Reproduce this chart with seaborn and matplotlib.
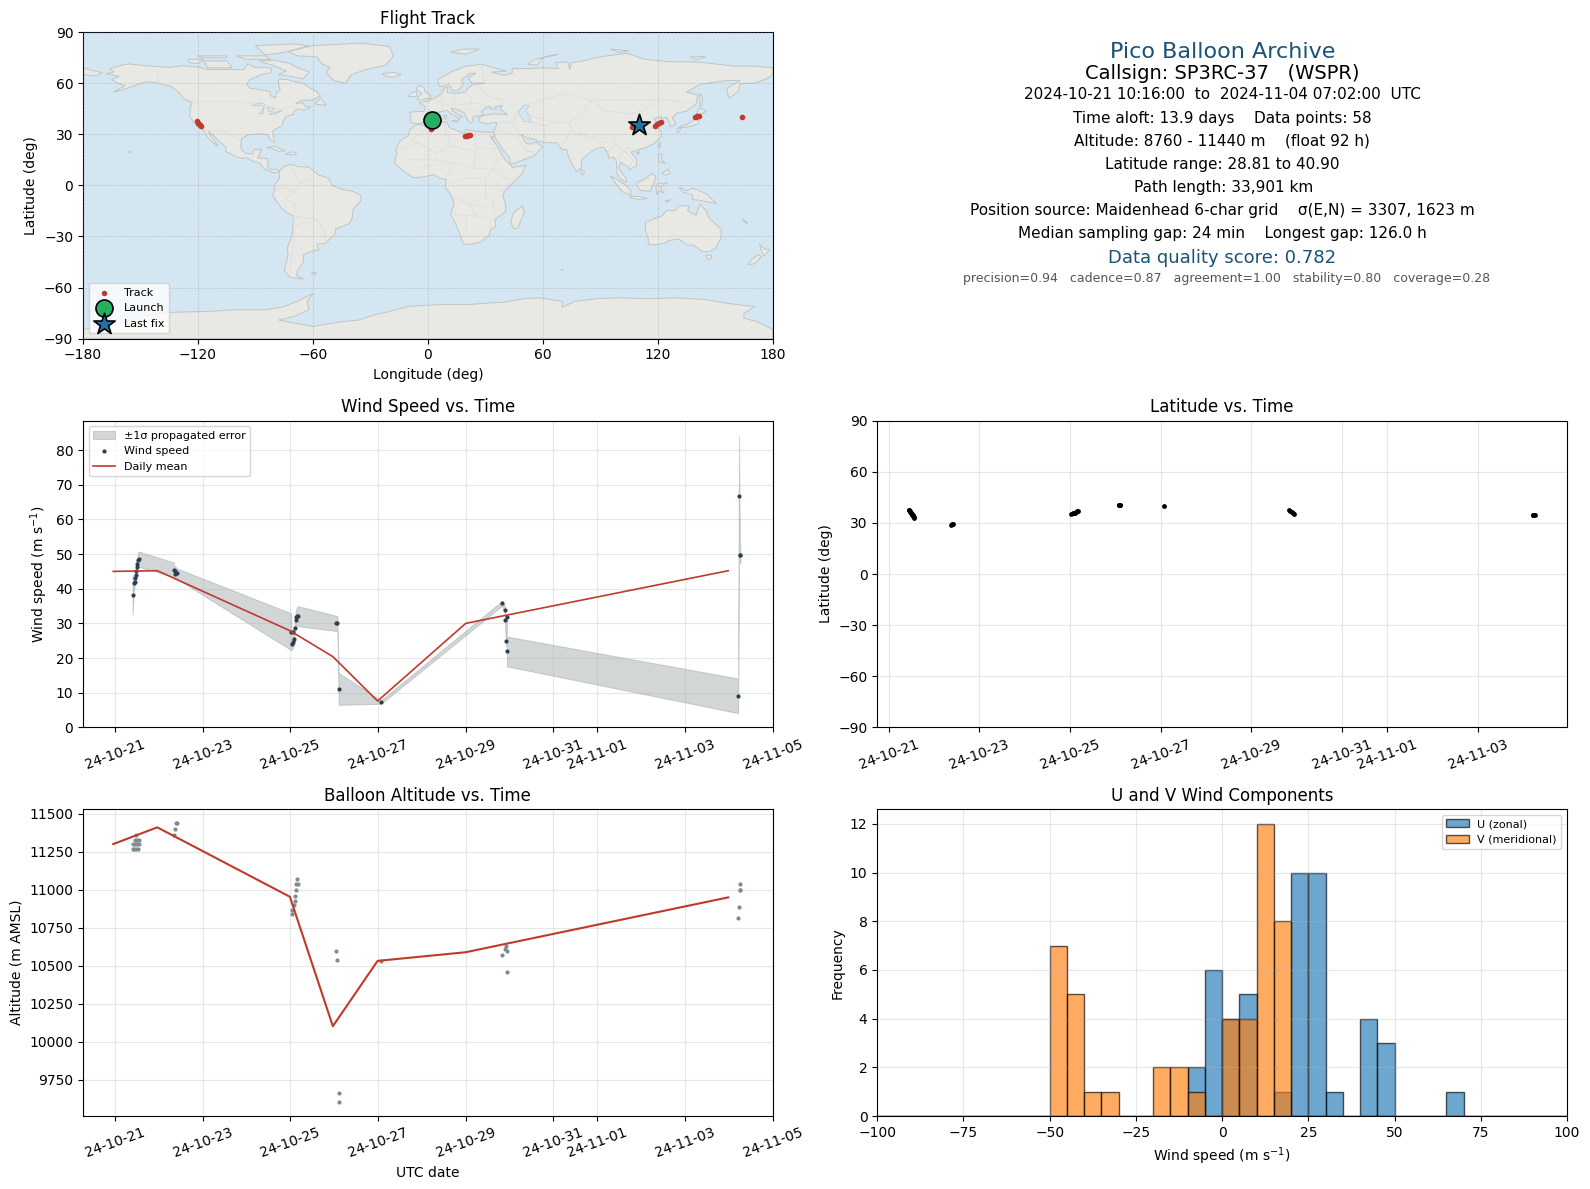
import matplotlib
matplotlib.use("Agg")
import matplotlib.dates as mdates
import matplotlib.pyplot as plt
import numpy as np
import pandas as pd
import seaborn as sns

# Launch reference, all times below are days after this
base_time = pd.Timestamp("2024-10-21")

# Wind speed samples (days, m/s, 1 sigma)
wind_days = [.40, .434, .447, .457, .472, .479, .492, .51, .525, .548,
             1.34, 1.362, 1.376, 1.406,
             4.018, 4.033, 4.064, 4.069, 4.089, 4.099, 4.119, 4.129, 4.149, 4.169,
             5.043, 5.073, 5.103, 6.068,
             8.83, 8.897, 8.898, 8.921, 8.941, 8.942,
             14.215, 14.235, 14.255, 14.265]
wind_ms = [38.3, 41.6, 41.9, 43.1, 44.1, 45.2, 46.4, 47.1, 48.4, 48.5,
           45.5, 44.3, 45, 44.4,
           27.6, 24, 24.5, 27.6, 25.5, 28.6, 30.9, 31.7, 32, 32.1,
           30, 30, 11.1, 7.3,
           35.8, 34, 31.1, 24.9, 31.7, 21.9,
           9.1, 66.7, 49.8, 49.8]
wind_err = [5.7, 1.5, 1.5, 1.5, 1.6, 1.7, 1.8, 1.9, 2.1, 2.2,
            2.1, 1.5, 1.5, 1.5,
            5.3, 1.7, 1.5, 1.5, 1.5, 1.5, 1.8, 2.2, 2.6, 2.9,
            2.2, 2.2, 4.6, .5,
            .7, 1, 1, 1.5, 1, 4.3,
            5, 17.3, 2.5, 2.5]

# Daily means
mean_days = [-.04, .965, 3.99, 4.97, 5.99, 8.0, 13.99]
mean_wind = [45, 45.2, 27.9, 20.4, 7.6, 30, 45.2]
mean_alt = [11302, 11412, 10955, 10103, 10533, 10590, 10951]

# Altitude samples
alt_days = [.40, .44, .48, .52, .42, .46, .50, .54, .46, .50, .54, .49,
            1.336, 1.366, 1.386, 1.416,
            4.038, 4.039, 4.079, 4.099, 4.10, 4.119, 4.12, 4.169, 4.149,
            5.043, 5.063, 5.103, 5.104, 6.068,
            8.83, 8.897, 8.921, 8.941, 8.942,
            14.215, 14.235, 14.255, 14.265, 14.266]
alt_m = [11270, 11270, 11270, 11270, 11302, 11302, 11302, 11302, 11329, 11329, 11329, 11362,
         11362, 11401, 11440, 11440,
         10841, 10867, 10900, 10927, 10960, 11000, 11039, 11039, 11072,
         10597, 10538, 9661, 9602, 10531,
         10571, 10610, 10628, 10597, 10459,
         10815, 10887, 11000, 11000, 11039]

# Latitude samples
lat_days = [.44, .46, .47, .48, .49, .50, .51, .52, .53, .54, .55, .57,
            1.38, 1.40, 1.42,
            4.03, 4.06, 4.08, 4.10, 4.13, 4.15, 4.18,
            5.07, 5.08, 5.09, 5.10, 5.11, 6.08,
            8.83, 8.86, 8.89, 8.92, 8.95,
            14.21, 14.22, 14.24, 14.25]
lat_deg = [37.8, 37.3, 36.9, 36.4, 36, 35.6, 35.2, 34.8, 34.4, 34, 33.5, 32.9,
           28.81, 29.2, 29.6,
           35.3, 35.6, 35.8, 36, 36.3, 36.8, 37.2,
           40.6, 40.6, 40.7, 40.5, 40.4, 40,
           37.4, 36.8, 36.2, 35.7, 35,
           34.6, 34.7, 34.8, 34.9]

# Track fixes on the map
track_lon = [-120.3, -120, -119.4, -118.9, -118.4, 1.5, 1.7, 19.5, 20.2, 21, 21.8, 106.3, 107,
             118.6, 119.2, 119.8, 120.5, 121.5, 139.4, 140, 140.6, 141.3, 164]
track_lat = [37.5, 36.8, 36.2, 35.5, 35, 33, 33.5, 28.81, 29, 29.3, 29.6, 34.5, 34.7,
             35, 35.5, 36, 36.4, 37, 40, 40.3, 40.5, 40.9, 40]
launch_lon, launch_lat = [2.3], [38.3]
last_lon, last_lat = [110], [35.2]

# Wind component histogram
bin_edges = list(range(-100, 105, 5))
u_bins = [-10, -5, 0, 5, 15, 20, 25, 30, 40, 45, 65]
u_counts = [2, 6, 4, 5, 1, 10, 10, 1, 4, 3, 1]
v_bins = [-50, -45, -40, -35, -20, -15, -10, 0, 5, 10, 15]
v_counts = [7, 5, 1, 1, 2, 2, 1, 4, 4, 12, 8]

# Rough coastlines (lon, lat)
north_america = [(-168, 65.5), (-164, 66.5), (-166, 68.5), (-160, 70.5), (-156, 71.3), (-150, 70.5), (-141, 69.7),
                 (-135, 69.3), (-128, 70.2), (-120, 69.5), (-115, 68), (-108, 68), (-100, 68), (-96, 68), (-94, 71.5),
                 (-90, 69), (-85, 69.5), (-81.5, 68.5), (-82, 66), (-87, 65), (-93, 62), (-94.5, 59), (-92.5, 57),
                 (-88, 56.3), (-82.5, 55), (-82, 52.5), (-79.5, 51.3), (-79, 54.5), (-77, 56), (-78, 59), (-78, 62.5),
                 (-73, 62), (-70, 61), (-65, 60), (-62, 57.5), (-58, 55), (-56, 52.5), (-60, 50), (-66, 50), (-69, 48),
                 (-65, 48.5), (-64.5, 46.5), (-61, 46), (-65, 44), (-67, 45), (-70, 43.5), (-70, 41.7), (-74, 40.5),
                 (-75.5, 38), (-76, 35), (-78, 34), (-81, 32), (-80.2, 27), (-80.3, 25.3), (-81.8, 26), (-82.7, 28),
                 (-84, 30), (-89, 30.2), (-94, 29.5), (-97.3, 27.5), (-97.5, 24), (-97.5, 21), (-95, 18.7), (-91.5, 18.5),
                 (-90.5, 21), (-87, 21.3), (-88, 18), (-88.5, 16), (-84, 15.8), (-83.3, 14), (-83.7, 11), (-82, 9),
                 (-79.5, 9.5), (-77.5, 8.5), (-78.5, 7.5), (-80.5, 7.3), (-83, 8.3), (-85.7, 10), (-87.5, 13), (-91, 14),
                 (-94.5, 16.2), (-97, 15.8), (-101, 17.3), (-105.5, 20), (-105.5, 22.5), (-109, 26), (-112.5, 30),
                 (-114.7, 31.5), (-112, 27), (-109.5, 23), (-112, 25), (-115, 28), (-117.2, 32.5), (-120.5, 34.5),
                 (-122.5, 37.5), (-124.3, 40.5), (-124, 46), (-123, 48.5), (-127.5, 51), (-130, 54.5), (-134, 58),
                 (-140, 59.8), (-147, 61), (-152, 59), (-158, 56.5), (-164, 54.7), (-158, 58.5), (-162, 60), (-165, 62),
                 (-161, 64)]
south_america = [(-77.5, 8.5), (-75, 11), (-71.5, 12.5), (-68, 11), (-62, 10.7), (-57, 6), (-52, 4.5), (-50, 0),
                 (-44.5, -2.5), (-39, -3.5), (-35, -6), (-35, -9), (-39, -14), (-39.5, -19), (-41, -22.5), (-48, -25.5),
                 (-48.5, -28.5), (-53.5, -34), (-58, -34.5), (-57, -38), (-62, -39), (-65, -41), (-65, -45), (-68, -50),
                 (-68.5, -53), (-65, -55), (-72, -54), (-75, -50), (-73, -41), (-73.5, -37), (-71, -30), (-70, -18.5),
                 (-76, -14), (-81, -6), (-80, -2.5), (-80, 0), (-77.5, 4)]
africa = [(-5.8, 35.8), (-2, 35.2), (3, 36.8), (10, 37.3), (11, 34), (15, 32.3), (19, 30.3), (20, 32.8), (25, 31.6),
          (32, 31.2), (34.3, 31.3), (34.9, 29.5), (33.8, 27.8), (32.6, 29.5), (33.5, 27), (35.5, 24), (37.3, 21),
          (38.5, 18), (40, 15.5), (43.2, 12), (44, 10.5), (51.2, 11.8), (49, 7), (46, 3), (41, -2), (39, -6),
          (40.5, -11), (40.5, -15.5), (35, -20), (35.5, -24), (32.8, -26), (32, -29), (28, -33), (25, -34), (20, -34.8),
          (18.3, -34), (17, -29.5), (14.5, -22.5), (11.8, -17), (13.7, -10.5), (12, -5.5), (9, -1), (9.5, 3.5), (6, 4.3),
          (3, 6.3), (-2, 5), (-7.5, 4.5), (-13, 8.5), (-17, 12.5), (-17.3, 14.8), (-16, 19), (-17, 21), (-14.5, 26),
          (-10, 29.5), (-9.5, 32.5)]
eurasia = [(-9, 37), (-9.3, 43), (-2, 43.5), (-1, 46), (-4.5, 48.5), (0, 49.5), (3, 51), (7, 53.5), (8.5, 57), (10.5, 57.5),
           (10, 54.5), (14, 54), (19, 54.5), (21, 57), (24, 59.3), (30, 60), (23, 60), (21, 63), (25, 65.7), (22, 65.8),
           (17.5, 62), (18.5, 59.5), (16, 56), (13, 55.5), (11, 59), (6, 58), (5, 62), (13, 67), (20, 70), (28, 71),
           (41, 67), (33, 66.5), (40, 64.5), (44, 66), (44, 68.5), (54, 68.5), (60, 69), (68, 68.5), (67, 72), (73, 72.5),
           (74, 68), (75, 72), (81, 73), (90, 75.5), (104, 77.5), (113, 74), (127, 72.5), (140, 72.5), (160, 70), (170, 70),
           (180, 69), (180, 65), (177, 62.5), (170, 60), (163, 59.8), (162, 55), (157, 51), (156, 57), (163, 61.5),
           (156, 61.5), (142, 59.3), (135, 54.7), (141, 53), (140, 48), (135, 43.5), (130, 42.5), (127.5, 39.8),
           (129.5, 36), (126.5, 34.5), (126, 37.5), (124.5, 40), (121.5, 39), (122, 40.6), (118, 39), (119, 37.3),
           (122.5, 37), (119.3, 35), (121.8, 31.5), (121.8, 28.5), (118, 24.5), (113.5, 22), (110, 21), (106, 19.5),
           (108.8, 15.5), (109, 11.5), (105, 9), (105, 10.5), (100.5, 13.5), (99.5, 10), (103.5, 4), (103.5, 1.4),
           (100.5, 4), (98.3, 8), (98.5, 14), (97, 16.5), (94.5, 16), (94, 19), (91.5, 22.5), (88, 21.7), (85, 19.5),
           (80.3, 15), (80, 10.5), (77.5, 8), (74.5, 14), (72.8, 19), (72.5, 21), (70, 21), (69, 22.5), (67, 25),
           (61.5, 25), (57, 26), (56.5, 27), (51.5, 27.8), (48.5, 30), (50.5, 26), (51.5, 24.5), (54, 24.2), (56.3, 25.5),
           (59.8, 22.5), (55, 17), (52, 16), (45, 12.8), (43, 13), (42.5, 16.5), (39, 21), (35, 28), (35, 29.5),
           (34.3, 31.3), (35.9, 35.5), (36, 36.8), (30.5, 36.3), (27.3, 37), (26.3, 39.5), (29, 41), (35, 42), (41.5, 41.5),
           (39, 44), (37.5, 45), (39, 47), (35, 46), (36, 45), (33, 44.7), (33, 46), (30.5, 46), (28, 43), (29, 41.2),
           (26, 40.7), (24, 40.7), (23, 39.5), (24, 38), (22.5, 36.5), (21, 38), (19.5, 41), (19, 42.5), (14.5, 45),
           (12.3, 45.3), (12.5, 44), (16, 41.5), (18.5, 40), (16.8, 40), (16, 38), (15.8, 40), (12, 42), (10, 44), (6, 43),
           (3, 43), (0, 39.8), (-0.5, 38), (-2, 36.8), (-5.5, 36)]
australia = [(113.5, -22), (116, -20.5), (122, -18), (125, -14.5), (129, -15), (131, -12), (136.5, -12), (135.5, -15),
             (140, -17.5), (142, -11), (145.3, -15), (146.5, -19), (150, -22.5), (153.2, -26), (153, -31), (150, -37),
             (146.5, -39), (143, -38.7), (138.5, -35), (135.5, -35), (131, -31.5), (126, -32.3), (123.5, -34), (118, -35),
             (115, -34.3), (115, -31), (113.5, -26)]
antarctica = [(-180, -90), (-180, -84.5), (-160, -81), (-150, -77), (-135, -74.5), (-115, -74), (-100, -73), (-85, -73),
              (-76, -71.5), (-68, -68), (-60, -63.5), (-63, -68), (-62, -73), (-70, -77), (-78, -79), (-60, -82.8), (-45, -80),
              (-36, -79), (-28, -76), (-20, -74), (-10, -71), (5, -70), (20, -70), (33, -69), (40, -68.5), (50, -66.5), (58, -66),
              (70, -68), (70, -71.5), (77, -68), (88, -66.5), (100, -66), (115, -66.5), (130, -66), (145, -67), (155, -69),
              (165, -70.5), (171, -71), (165, -75), (165, -78), (172, -80), (180, -84.5), (180, -90)]
greenland = [(-73, 78.5), (-60, 82), (-35, 83.5), (-20, 81.5), (-18, 76), (-22, 70.5), (-32, 68), (-40, 65), (-43, 60),
             (-49, 61.5), (-53, 66), (-51, 69.5), (-55, 71), (-58, 75.5), (-68, 76)]
islands = [
    [(-80, 73.5), (-72, 71.5), (-68, 69), (-62, 66.5), (-65, 62.5), (-72, 64), (-78, 65), (-74, 67), (-80, 70), (-88, 73)],
    [(-117, 73), (-105, 73), (-102, 69), (-115, 69)],
    [(-90, 82), (-70, 83), (-62, 82), (-75, 78), (-85, 76.5)],
    [(-125, 74), (-117, 74), (-120, 71.5), (-125, 72)],
    [(-100, 76), (-85, 76), (-82, 74), (-95, 74)],
    [(-120, 76), (-105, 76), (-105, 74.8), (-118, 75)],
    [(-59, 47.7), (-56, 51.5), (-53, 47)],
    [(-84.5, 22), (-80, 23), (-74.5, 20.3), (-78, 20), (-82, 22)],
    [(-74.3, 18.5), (-70, 19.8), (-68.5, 18.5), (-71.5, 17.8)],
    [(-24, 65.5), (-18, 66.3), (-14, 65), (-18, 63.5), (-22, 64)],
    [(-5.5, 50), (1.5, 51.2), (1.5, 53), (-1.5, 55), (-2, 57.5), (-5, 58.6), (-6, 56), (-3, 54), (-5, 52)],
    [(-10, 52), (-6, 52.2), (-6, 55), (-9, 54.5)],
    [(145, -41), (148, -41), (147.8, -43), (146, -43.5)],
    [(173, -34.5), (176, -37.5), (178.5, -37.7), (175.5, -41.5), (174.5, -39.5)],
    [(172.5, -40.5), (174, -41.8), (170.5, -46), (167, -46.5), (168.5, -44)],
    [(131, -1), (135, -3.3), (138, -1.7), (141, -2.7), (146, -5.5), (148, -8), (150.5, -10.5), (147, -10), (143, -9),
     (138, -8.3), (138, -5.5), (133, -4)],
    [(109, 1.5), (114, 4.5), (117, 7), (119, 5), (117.8, 1), (116, -3.5), (111, -3), (109, 0)],
    [(95.3, 5.5), (98, 4), (103.5, 0), (106, -3), (105.8, -5.8), (102, -4), (99, -.5)],
    [(105.5, -6.5), (110, -6.5), (114.5, -7.7), (110, -8.3), (106, -7.5)],
    [(119.5, -5.5), (119, -1), (120, 1), (125, 1.5), (121, -.8), (123, -4.5), (120.5, -3)],
    [(120.5, 18.5), (122.2, 18.3), (122, 15), (124, 12.8), (120.5, 14)],
    [(122, 7), (125.5, 9.7), (126.5, 7), (124, 6)],
    [(120.2, 23), (121.5, 25.2), (121, 22)],
    [(108.7, 19), (110.5, 20), (110, 18.3)],
    [(80, 9.5), (81.8, 7.5), (80.7, 6), (79.8, 7.5)],
    [(130.9, 34), (135, 35.6), (137, 37), (140, 39.5), (141, 41.3), (142, 39.5), (140.8, 36), (137, 34.6), (133, 33.8)],
    [(130, 33.5), (132, 33.5), (131, 31), (130, 31.5)],
    [(140, 42), (141.8, 45.4), (145.3, 43.5), (143, 42)],
    [(142, 54), (143.3, 52), (143, 47), (142, 46), (142, 50)],
    [(49.3, -12), (50.3, -16), (47, -25), (45, -25.5), (43.3, -22), (44.4, -16.5)],
    [(12, 78), (18, 80), (27, 80), (20, 77)],
    [(52, 71), (56, 74), (68, 77), (60, 75), (57, 70.5)],
    [(95, 80), (105, 79), (100, 78)],
    [(137, 75.5), (145, 75.5), (140, 73.8)],
    [(-180, 69), (-175, 67.5), (-170, 66), (-173, 64.2), (-180, 65)],
    [(12.5, 38), (15.5, 38.2), (15, 36.7)],
    [(8.3, 41), (9.7, 41), (9.5, 39), (8.5, 39)],
    [(-61, -51.5), (-58, -51.3), (-59, -52.3)],
    [(-156, 20), (-155, 19.5), (-156, 19)],
    [(164, -20), (167, -22), (166, -22.3)],
    [(124, -9), (127, -8.4), (124, -10)],
    [(69, -49), (70, -49), (70, -49.5)],
]
inland_water = [
    [(50, 47), (53, 46.5), (51, 44), (53, 41), (54, 37), (50, 37.5), (49, 40), (47, 43)],
    [(-92, 46.8), (-88, 48.5), (-85, 47.5), (-85, 46.6), (-88, 46.6)],
    [(-88, 42), (-85.5, 46), (-86, 42)],
    [(-84, 46), (-80, 45), (-82, 43), (-83.5, 44)],
    [(-83, 41.8), (-79, 43), (-76, 44), (-79, 42)],
]
borders = [
    [(-141, 69.7), (-141, 60), (-130, 55)], [(-123, 49), (-95, 49), (-84, 46.5), (-76, 44.5), (-70, 46), (-67, 45)],
    [(-117, 32.5), (-106, 31.5), (-97.5, 26)], [(-92, 14.5), (-91, 18)], [(-70, -18), (-58, -20), (-54, -26), (-53.5, -33)],
    [(-70, -18), (-69, -11), (-74, -8), (-70, -4), (-67, 1), (-60, 5)], [(-80, -3), (-75, -1), (-70, -4)], [(-72, 12), (-67, 1)],
    [(-70, -18), (-70, -33), (-72, -50)], [(-58, -20), (-62, -22), (-66, -22), (-70, -25)],
    [(-9, 42), (-7, 37)], [(-2, 43.5), (3, 43)], [(3, 51), (6, 49), (8, 47.5), (7, 44)], [(7, 53.5), (7, 50), (8, 47.5), (13, 47),
     (14, 51), (14, 54)], [(19, 54.5), (23, 51), (22, 48), (27, 48), (30, 46)], [(13, 47), (22, 48)], [(14, 45), (22, 44), (28, 44)],
    [(28, 71), (29, 62), (30, 60)], [(24, 59.3), (28, 56), (32, 52), (40, 50), (39, 47)], [(47, 43), (45, 39), (44, 37), (36, 36.8)],
    [(44, 37), (46, 33), (48, 30)], [(36, 32), (39, 32), (46, 29), (48, 29)], [(46, 29), (52, 20), (55, 20), (52, 16)],
    [(61, 25), (61, 35), (66, 37), (74, 37), (75, 32), (70, 24)], [(54, 37), (61, 35)], [(50, 47), (60, 50), (72, 54), (85, 50),
     (98, 50), (108, 50), (118, 50), (127, 50), (135, 48)], [(53, 41), (66, 37)], [(85, 50), (80, 42), (74, 37)],
    [(85, 50), (92, 44), (105, 42), (112, 44), (118, 48)], [(75, 32), (80, 30), (88, 28), (97, 28), (98, 24), (101, 21), (105, 22), (106, 22)],
    [(92, 25), (88, 26), (78, 30)], [(98, 24), (94, 19)], [(101, 21), (100, 17), (98.5, 14)], [(101, 21), (105, 18), (107, 15), (105, 10.5)],
    [(-9, 27), (-1, 32), (-2, 35)], [(-9, 27), (-5, 25), (4, 19), (12, 23), (10, 30), (8, 37)], [(12, 23), (25, 20), (25, 31.6)],
    [(25, 22), (37, 22)], [(25, 20), (24, 10), (34, 10), (37, 16)], [(-17, 21), (-13, 21), (-5, 25)], [(-12, 15), (4, 15), (14, 13), (24, 10)],
    [(14, 13), (9, 4)], [(-5, 10), (3, 12)], [(34, 10), (40, 4), (46, 3)], [(34, 10), (30, 4), (18, 4), (14, 2), (9, 2)], [(30, 4), (30, -8), (34, -9), (35, -17)],
    [(34, -1), (40, -4)], [(12, -6), (22, -11), (30, -13)], [(12, -17), (25, -18), (33, -20), (32, -26)], [(20, -18), (20, -28), (17, -29)], [(25, -18), (22, -11)],
    [(141, -2.7), (141, -9)], [(116, 4.5), (110, 1)],
]


def draw_map(ax):
    ax.set_facecolor("#d4e6f1")
    for poly in [north_america, south_america, africa, eurasia, australia, antarctica, greenland] + islands:
        lons, lats = zip(*poly)
        ax.fill(lons, lats, facecolor="#e8e8e4", edgecolor="#bcc0c0", linewidth=.6, zorder=1)
    for poly in inland_water:
        lons, lats = zip(*poly)
        ax.fill(lons, lats, facecolor="#d4e6f1", edgecolor="#bcc0c0", linewidth=.4, zorder=1.1)
    for line in borders:
        lons, lats = zip(*line)
        ax.plot(lons, lats, color="#dcdedc", linewidth=.5, zorder=1.2)


def days_to_dates(days):
    return base_time + pd.to_timedelta(days, unit="D")


def date_axis(ax, x_start, x_end):
    ax.set_xlim(mdates.date2num(days_to_dates(x_start)), mdates.date2num(days_to_dates(x_end)))
    ax.xaxis.set_major_locator(mdates.DayLocator(bymonthday=range(1, 32, 2)))
    ax.xaxis.set_major_formatter(mdates.DateFormatter("%y-%m-%d"))
    ax.tick_params(axis="x", rotation=20)
    ax.grid(True, alpha=.3)


fig, axes = plt.subplots(3, 2, figsize=(15.9, 11.89), dpi=100)
fig.subplots_adjust(left=83 / 1590, right=1567 / 1590, top=1 - 32 / 1189, bottom=1 - 1116 / 1189,
                    wspace=.1515, hspace=.267)

# Flight track map
ax = axes[0, 0]
draw_map(ax)
sns.scatterplot(x=track_lon, y=track_lat, s=16, color="#c0392b", linewidth=0, label="Track", ax=ax, zorder=4)
sns.scatterplot(x=launch_lon, y=launch_lat, s=150, color="#27ae60", edgecolor="black", linewidth=1.2,
                label="Launch", ax=ax, zorder=5)
sns.scatterplot(x=last_lon, y=last_lat, s=260, marker="*", color="#2471a3", edgecolor="black", linewidth=1.2,
                label="Last fix", ax=ax, zorder=5)
ax.set_xlim(-180, 180)
ax.set_ylim(-90, 90)
ax.set_xticks(range(-180, 181, 60))
ax.set_yticks(range(-90, 91, 30))
ax.grid(True, linestyle="--", linewidth=.5, alpha=.35, color="#888888", zorder=2)
ax.set_axisbelow(False)
ax.set_title("Flight Track", fontsize=12)
ax.set_xlabel("Longitude (deg)")
ax.set_ylabel("Latitude (deg)")
ax.legend(loc="lower left", fontsize=8)

# Summary text
ax = axes[0, 1]
ax.axis("off")
summary = [
    (.5015, .936, "Pico Balloon Archive", 16, "#1a5276"),
    (.5, .866, "Callsign: SP3RC-37   (WSPR)", 14, "black"),
    (.5, .797, "2024-10-21 10:16:00  to  2024-11-04 07:02:00  UTC", 11, "black"),
    (.5, .718, "Time aloft: 13.9 days    Data points: 58", 11, "black"),
    (.5, .645, "Altitude: 8760 - 11440 m    (float 92 h)", 11, "black"),
    (.5, .567, "Latitude range: 28.81 to 40.90", 11, "black"),
    (.5015, .493, "Path length: 33,901 km", 11, "black"),
    (.5, .417, "Position source: Maidenhead 6-char grid    σ(E,N) = 3307, 1623 m", 11, "black"),
    (.5, .342, "Median sampling gap: 24 min    Longest gap: 126.0 h", 11, "black"),
    (.5, .263, "Data quality score: 0.782", 13, "#1a5276"),
    (.506, .198, "precision=0.94   cadence=0.87   agreement=1.00   stability=0.80   coverage=0.28", 9, "#555555"),
]
for x, y, line, size, col in summary:
    ax.text(x, y, line, fontsize=size, color=col, ha="center", va="center", transform=ax.transAxes)

# Wind speed
ax = axes[1, 0]
wind_df = pd.DataFrame({"time": days_to_dates(wind_days), "wind": wind_ms, "err": wind_err})
mean_df = pd.DataFrame({"time": days_to_dates(mean_days), "wind": mean_wind, "alt": mean_alt})
ax.fill_between(wind_df["time"], wind_df["wind"] - wind_df["err"], wind_df["wind"] + wind_df["err"],
                color="#7f8c8d", alpha=.35, linewidth=.7, label="±1σ propagated error")
sns.scatterplot(data=wind_df, x="time", y="wind", s=9, color="#2c3e50", linewidth=0, label="Wind speed", ax=ax, zorder=3)
sns.lineplot(data=mean_df, x="time", y="wind", color="#c0392b", linewidth=1.2, label="Daily mean", ax=ax, zorder=4)
date_axis(ax, -.73, 15.005)
ax.set_ylim(0, 88.5)
ax.set_title("Wind Speed vs. Time", fontsize=12)
ax.set_xlabel("")
ax.set_ylabel("Wind speed (m s$^{-1}$)")
ax.legend(loc="upper left", fontsize=8)

# Latitude
ax = axes[1, 1]
sns.scatterplot(x=days_to_dates(lat_days), y=lat_deg, s=12, color="black", linewidth=0, ax=ax, zorder=3)
date_axis(ax, -.25, 14.96)
ax.set_ylim(-90, 90)
ax.set_yticks(range(-90, 91, 30))
ax.set_title("Latitude vs. Time", fontsize=12)
ax.set_xlabel("")
ax.set_ylabel("Latitude (deg)")

# Altitude
ax = axes[2, 0]
sns.scatterplot(x=days_to_dates(alt_days), y=alt_m, s=9, color="#7f8c8d", linewidth=0, ax=ax, zorder=3)
sns.lineplot(data=mean_df, x="time", y="alt", color="#c0392b", linewidth=1.5, ax=ax, zorder=4)
date_axis(ax, -.73, 15.005)
ax.set_ylim(9512, 11531)
ax.set_title("Balloon Altitude vs. Time", fontsize=12)
ax.set_xlabel("UTC date")
ax.set_ylabel("Altitude (m AMSL)")

# U and V histogram
ax = axes[2, 1]
u_centers = np.array(u_bins) + 2.5
v_centers = np.array(v_bins) + 2.5
sns.histplot(x=u_centers, weights=u_counts, bins=bin_edges, color="#1f77b4", alpha=.65, edgecolor=(0, 0, 0, .65),
             linewidth=1, label="U (zonal)", ax=ax)
sns.histplot(x=v_centers, weights=v_counts, bins=bin_edges, color="#ff7f0e", alpha=.65, edgecolor=(0, 0, 0, .65),
             linewidth=1, label="V (meridional)", ax=ax)
ax.set_xlim(-100, 100)
ax.set_ylim(0, 12.6)
ax.grid(True, alpha=.3)
ax.set_title("U and V Wind Components", fontsize=12)
ax.set_xlabel("Wind speed (m s$^{-1}$)")
ax.set_ylabel("Frequency")
ax.legend(loc="upper right", fontsize=8)

fig.savefig("out.png", dpi=100)
